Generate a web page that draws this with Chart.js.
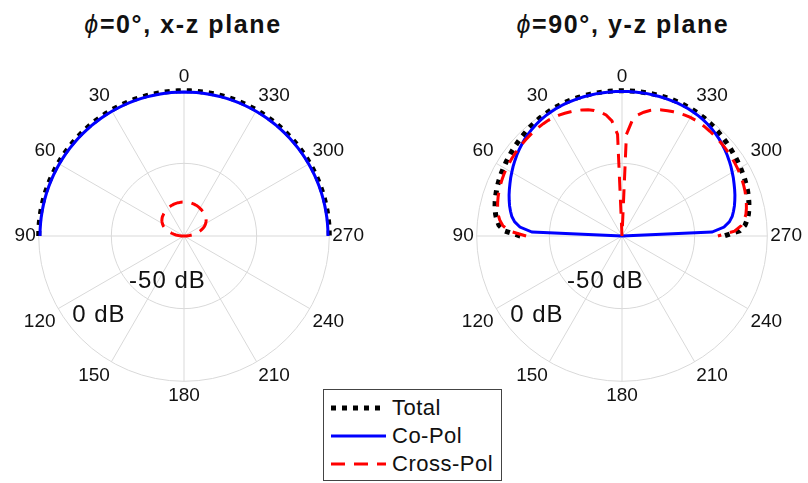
<!DOCTYPE html>
<html>
<head>
<meta charset="utf-8">
<script src="https://cdn.jsdelivr.net/npm/chart.js@4.4.1/dist/chart.umd.min.js"></script>
<style>
  html, body { margin: 0; padding: 0; background: #fff; }
  #page {
    position: relative; width: 808px; height: 483px; overflow: hidden;
    font-family: "Liberation Sans", Arial, Helvetica, sans-serif; color: #111;
  }
  .plot-title {
    position: absolute; top: 12px; width: 360px; text-align: center;
    font-size: 25px; line-height: 25px; font-weight: bold; letter-spacing: 1.6px; white-space: nowrap;
  }
  .plot-title i { font-weight: normal; }
  canvas { position: absolute; top: 57px; }
  #legend {
    position: absolute; left: 323px; top: 389px; width: 179px; height: 92px;
    box-sizing: border-box; border: 1px solid #444; background: #fff;
    padding-top: 4px; z-index: 2;
  }
  .legend-row { display: flex; align-items: center; height: 28px; }
  .legend-row svg { margin-left: 7px; flex: none; }
  .legend-row span { margin-left: 6px; font-size: 22px; letter-spacing: 0.5px; }
</style>
</head>
<body>
<div id="page">
  <div class="plot-title" style="left:3px"><i>ϕ</i>=0°, x-z plane</div>
  <div class="plot-title" style="left:443px"><i>ϕ</i>=90°, y-z plane</div>
  <canvas id="xzPlane" width="360" height="360" style="left:10px"></canvas>
  <canvas id="yzPlane" width="360" height="360" style="left:448px"></canvas>
  <div id="legend"></div>
</div>
<script>
// angular spacing of the samples (degrees); samples run from 90 (left) over 0 (top) to 270 (right)
const STEP = 2.5;
const angleTicks = [0, 30, 60, 90, 120, 150, 180, 210, 240, 270, 300, 330];
const ringTicks = [-100, -50, 0]; // dB
const seriesNames = ['Total', 'Co-Pol', 'Cross-Pol'];

// phi = 0 deg cut
const xzTotal = [
  0, 0, 0, 0, 0, 0, 0, 0, 0, 0, 0, 0, 0, 0, 0, 0, 0, 0, 0, 0, 0, 0, 0, 0, 0, 0, 0, 0, 0, 0, 0, 0, 0, 0, 0, 0, 0,
  0, 0, 0, 0, 0, 0, 0, 0, 0, 0, 0, 0, 0, 0, 0, 0, 0, 0, 0, 0, 0, 0, 0, 0, 0, 0, 0, 0, 0, 0, 0, 0, 0, 0, 0, 0
];
const xzCoPol = [
  -0.9, -0.9, -0.9, -0.9, -0.9, -0.9, -0.9, -0.9, -0.9, -0.9, -0.9, -0.9, -0.9, -0.9, -0.9, -0.9, -0.9, -0.9, -0.9,
  -0.9, -0.9, -0.9, -0.9, -0.9, -0.9, -0.9, -0.9, -0.9, -0.9, -0.9, -0.9, -0.9, -0.9, -0.9, -0.9, -0.9, -0.9,
  -0.9, -0.9, -0.9, -0.9, -0.9, -0.9, -0.9, -0.9, -0.9, -0.9, -0.9, -0.9, -0.9, -0.9, -0.9, -0.9, -0.9, -0.9,
  -0.9, -0.9, -0.9, -0.9, -0.9, -0.9, -0.9, -0.9, -0.9, -0.9, -0.9, -0.9, -0.9, -0.9, -0.9, -0.9, -0.9, -0.9
];
const xzCrossPol = [
  -100, -98.1, -96.2, -94.4, -92.8, -91.3, -89.7, -88.3, -86.9, -85.7, -84.5, -83.6, -82.8, -82.1, -81.4, -80.9,
  -80.4, -80.0, -79.7, -79.3, -79.0, -78.8, -78.5, -78.2, -78.0, -77.7, -77.5, -77.3, -77.2, -77.0, -76.9, -76.8,
  -76.7, -76.7, -76.6, -76.6, -76.6,
  -76.6, -76.6, -76.7, -76.7, -76.8, -76.9, -77.0, -77.2, -77.3, -77.5, -77.7, -78.0, -78.2, -78.5, -78.8, -79.0,
  -79.3, -79.7, -80.0, -80.4, -80.9, -81.4, -82.1, -82.8, -83.6, -84.5, -85.7, -86.9, -88.3, -89.7, -91.3, -92.8,
  -94.4, -96.2, -98.1, -100
];

// phi = 90 deg cut
const yzTotal = [
  -30, -19, -15.0, -13.0, -11.6, -10.5, -9.6, -8.8, -8.1, -7.5, -6.9, -6.4, -5.9, -5.4, -4.9, -4.4, -3.9, -3.4,
  -2.9, -2.4, -1.9, -1.5, -1.1, -0.8, -0.5, -0.3, -0.2, -0.1, 0, 0, 0, 0, 0, 0, 0, 0, 0,
  0, 0, 0, 0, 0, 0, 0, 0, -0.1, -0.2, -0.3, -0.5, -0.8, -1.1, -1.5, -1.9, -2.4, -2.9, -3.4, -3.9, -4.4, -4.9,
  -5.4, -5.9, -6.4, -6.9, -7.5, -8.1, -8.8, -9.6, -10.5, -11.6, -13.0, -15.0, -19, -30
];
const yzCoPol = [
  -100, -38, -29.5, -25.5, -23.0, -21.4, -19.9, -18.6, -17.3, -16.1, -14.9, -13.6, -12.4, -11.1, -9.9, -8.7,
  -7.6, -6.5, -5.5, -4.6, -3.8, -3.1, -2.5, -2.0, -1.6, -1.3, -1.1, -0.9, -0.8, -0.7, -0.6, -0.6, -0.5, -0.5,
  -0.5, -0.5, -0.5,
  -0.5, -0.5, -0.5, -0.5, -0.6, -0.6, -0.7, -0.8, -0.9, -1.1, -1.3, -1.6, -2.0, -2.5, -3.1, -3.8, -4.6, -5.5,
  -6.5, -7.6, -8.7, -9.9, -11.1, -12.4, -13.6, -14.9, -16.1, -17.3, -18.6, -19.9, -21.4, -23.0, -25.5, -29.5,
  -38, -100
];
const yzCrossPol = [
  -34, -22.5, -17.6, -15.1, -13.4, -12.3, -11.4, -10.6, -9.9, -9.3, -8.8, -8.3, -7.9, -7.6, -7.3, -7.0, -6.8,
  -6.5, -6.3, -6.1, -5.9, -5.7, -5.6, -5.6, -5.8, -6.2, -6.8, -7.5, -8.2, -9.0, -10.0, -11.5, -13.5, -16.0,
  -20.5, -30, -100,
  -30, -20.5, -16.0, -13.5, -11.5, -10.0, -9.0, -8.2, -7.5, -6.8, -6.2, -5.8, -5.6, -5.6, -5.7, -5.9, -6.1,
  -6.3, -6.5, -6.8, -7.0, -7.3, -7.6, -7.9, -8.3, -8.8, -9.3, -9.9, -10.6, -11.4, -12.3, -13.4, -15.1, -17.6,
  -22.5, -34
];

// one category per STEP degrees, index 0 sits at 90 on the left and the index runs clockwise
const angleLabels = [];
for (let i = 0; i < 360 / STEP; i++) angleLabels.push((90 - i * STEP + 360) % 360);

const GRID = '#d9d9d9';
const FONT = '"Liberation Sans", Arial, Helvetica, sans-serif';
const lineStyles = [
  { borderColor: '#000000', borderWidth: 5, borderDash: [5, 6] },
  { borderColor: '#0000ff', borderWidth: 3, borderDash: [] },
  { borderColor: '#ff0000', borderWidth: 3, borderDash: [14, 9] }
];
// where the dB labels of the rings go, as fractions of the radius (x, baseline y)
const ringLabelSpots = { '-50': [-0.114, 0.356], '0': [-0.586, 0.595] };

const ringLabels = {
  id: 'ringLabels',
  afterDatasetsDraw(chart) {
    const r = chart.scales.r;
    const ctx = chart.ctx;
    ctx.save();
    ctx.font = '24px ' + FONT;
    ctx.letterSpacing = '1px';
    ctx.fillStyle = '#111';
    ctx.textAlign = 'center';
    ctx.textBaseline = 'alphabetic';
    r.ticks.forEach(t => {
      const spot = ringLabelSpots[String(t.value)];
      if (!spot) return;
      ctx.fillText(t.value + ' dB', r.xCenter + spot[0] * r.drawingArea, r.yCenter + spot[1] * r.drawingArea);
    });
    ctx.restore();
  }
};

function makePattern(canvasId, total, coPol, crossPol) {
  const values = [total, coPol, crossPol];
  return new Chart(document.getElementById(canvasId), {
    type: 'radar',
    data: {
      labels: angleLabels,
      datasets: values.map((v, i) => Object.assign({
        label: seriesNames[i],
        data: v,
        fill: false,
        pointRadius: 0,
        pointHoverRadius: 0,
        tension: 0,
        order: 3 - i
      }, lineStyles[i]))
    },
    options: {
      responsive: false,
      animation: false,
      events: [],
      plugins: { legend: { display: false }, tooltip: { enabled: false } },
      scales: {
        r: {
          min: ringTicks[0],
          max: ringTicks[ringTicks.length - 1],
          startAngle: -90,
          ticks: { display: false, stepSize: ringTicks[1] - ringTicks[0] },
          grid: { circular: true, color: GRID, lineWidth: 1 },
          angleLines: {
            color: GRID,
            lineWidth: ctx => angleTicks.includes(angleLabels[ctx.index]) ? 1 : 0
          },
          pointLabels: {
            callback: label => angleTicks.includes(label) ? String(label) : '',
            color: '#111',
            padding: 3,
            font: { family: FONT, size: 19 }
          }
        }
      }
    },
    plugins: [ringLabels]
  });
}

const xzChart = makePattern('xzPlane', xzTotal, xzCoPol, xzCrossPol);
makePattern('yzPlane', yzTotal, yzCoPol, yzCrossPol);

// shared legend, built from the first chart's datasets
const legend = document.getElementById('legend');
xzChart.data.datasets.forEach(ds => {
  const row = document.createElement('div');
  row.className = 'legend-row';
  const dash = ds.borderDash.length ? ds.borderDash.join(' ') : 'none';
  row.innerHTML =
    '<svg width="55" height="10"><line x1="0" y1="5" x2="55" y2="5" stroke="' + ds.borderColor +
    '" stroke-width="' + ds.borderWidth + '" stroke-dasharray="' + dash + '"/></svg>' +
    '<span>' + ds.label + '</span>';
  legend.appendChild(row);
});
</script>
</body>
</html>
